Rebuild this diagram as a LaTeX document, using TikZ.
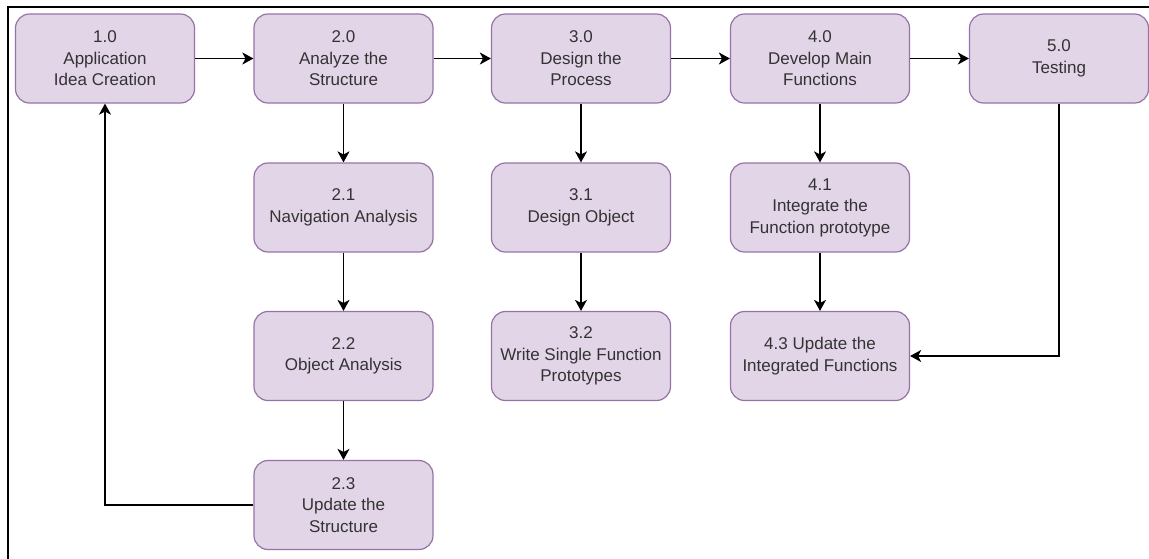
\documentclass[tikz,border=0pt]{standalone}
\usepackage{fontspec}
\setmainfont{Liberation Sans}
\usetikzlibrary{arrows.meta}
\definecolor{boxfill}{HTML}{E1D5E7}
\definecolor{boxdraw}{HTML}{9673A6}
\definecolor{txt}{HTML}{333333}
\tikzset{
  proc/.style={draw=boxdraw, fill=boxfill, line width=1.2pt, rounded corners=14pt,
    minimum width=179pt, minimum height=89pt, inner sep=2pt, align=center,
    text=txt, font=\fontsize{17}{21.5}\selectfont},
  conn/.style={line width=1.3pt, -{Stealth[length=11pt,width=12pt,inset=3pt]}},
}
\begin{document}
\begin{tikzpicture}[x=1pt,y=-1pt]
\useasboundingbox (0,0) rectangle (1149,558);
\fill[white] (0,0) rectangle (1149,558);
\draw[line width=2.6pt] (8,560) -- (8,7) -- (1151,7);
\node[proc] (n10) at (105,58.5) {1.0\\Application\\Idea Creation};
\node[proc] (n20) at (343.5,58.5) {2.0\\Analyze the\\Structure};
\node[proc] (n30) at (581,58.5) {3.0\\Design the\\Process};
\node[proc] (n40) at (820,58.5) {4.0\\Develop Main\\Functions};
\node[proc] (n50) at (1059,58.5) {5.0\\Testing};
\node[proc] (n21) at (343.5,207.5) {2.1\\Navigation Analysis};
\node[proc] (n31) at (581,207.5) {3.1\\Design Object};
\node[proc] (n41) at (820,207.5) {4.1\\Integrate the\\Function prototype};
\node[proc] (n22) at (343.5,356) {2.2\\Object Analysis};
\node[proc] (n32) at (581,356) {3.2\\Write Single Function\\Prototypes};
\node[proc] (n43) at (820,356) {4.3 Update the\\Integrated Functions};
\node[proc] (n23) at (343.5,505) {2.3\\Update the\\Structure};
\draw[conn] (n10) -- (n20);
\draw[conn] (n20) -- (n30);
\draw[conn] (n30) -- (n40);
\draw[conn] (n40) -- (n50);
\draw[conn] (n20) -- (n21);
\draw[conn] (n21) -- (n22);
\draw[conn] (n22) -- (n23);
\draw[conn] (n30) -- (n31);
\draw[conn] (n31) -- (n32);
\draw[conn] (n40) -- (n41);
\draw[conn] (n41) -- (n43);
\draw[conn] (n23.west) -| (n10.south);
\draw[conn] (n50.south) |- (n43.east);
\end{tikzpicture}
\end{document}
